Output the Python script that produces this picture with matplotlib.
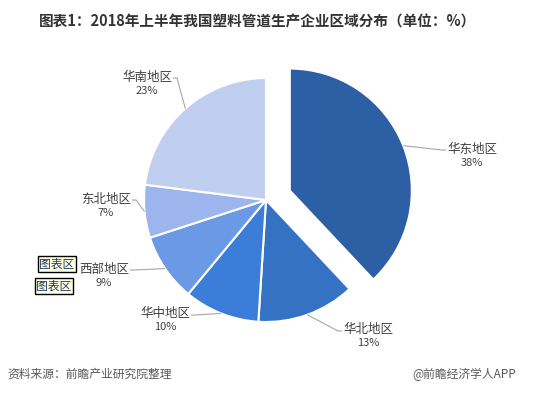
import matplotlib
matplotlib.use("Agg")
import matplotlib.pyplot as plt
import numpy as np

plt.rcParams['font.family'] = ['Noto Sans CJK SC', 'DejaVu Sans']

regions = ['华东地区', '华北地区', '华中地区', '西部地区', '东北地区', '华南地区']
shares = [38, 13, 10, 9, 7, 23]
colors = ['#2D5FA5', '#3572C3', '#3C7DD9', '#6A99E5', '#9CB5EC', '#C0CFF0']
explode = [0.21, 0, 0, 0, 0, 0]

title = '图表1：2018年上半年我国塑料管道生产企业区域分布（单位：%）'
source = '资料来源：前瞻产业研究院整理'
brand = '@前瞻经济学人APP'

# label centres in pixel coords (y from top), picked to sit where the original has them
label_pos = [(472, 149), (368, 330), (165, 314), (104, 269), (106, 199), (147, 77)]

W, H = 539, 393
fig = plt.figure(figsize=(W / 100, H / 100), dpi=100)
ax = fig.add_axes([0, 0, 1, 1])
ax.axis('off')

cx, cy, r = 266, H - 200, 122
# pie's explode is in data units here, so scale the fractions by the radius
wedges, _ = ax.pie(shares, colors=colors, explode=[e * r for e in explode],
                   startangle=90, counterclock=False, center=(cx, cy), radius=r,
                   wedgeprops=dict(edgecolor='white', linewidth=1.5))
ax.set_xlim(0, W)
ax.set_ylim(0, H)
ax.set_aspect('equal')

for w, name, val, (lx, ly) in zip(wedges, regions, shares, label_pos):
    mid = np.deg2rad((w.theta1 + w.theta2) / 2)
    ox, oy = w.center
    ex_pt = (ox + r * np.cos(mid), oy + r * np.sin(mid))
    ly = H - ly
    right = lx > cx
    end_x = lx - 26 if right else lx + 26
    elbow_x = end_x - 4 if right else end_x + 4
    ax.plot([ex_pt[0], elbow_x, end_x], [ex_pt[1], ly - 1, ly - 1],
            color='#A6A6A6', lw=0.8, solid_capstyle='butt')
    ax.text(lx, ly, name, ha='center', va='center', fontsize=9, color='#404040')
    ax.text(lx, ly - 13.5, '%d%%' % val, ha='center', va='center',
            fontsize=8, color='#404040')

fig.text(258 / W, 1 - 22 / H, title, ha='center', va='center',
         fontsize=10.5, fontweight='bold', color='#333333')
fig.text(7 / W, 1 - 374 / H, source, ha='left', va='center',
         fontsize=8.5, color='#595959', style='italic')
fig.text(516 / W, 1 - 374 / H, brand, ha='right', va='center',
         fontsize=8.5, color='#595959')

# the two leftover excel tooltips
for tx, ty in [(57, 264), (54, 286)]:
    fig.text(tx / W, 1 - ty / H, '图表区', ha='center', va='center',
             fontsize=8.5, color='#1F3864',
             bbox=dict(boxstyle='square,pad=0.12', fc='#FFFFE1', ec='black', lw=1))

fig.savefig('out.png', dpi=100)
